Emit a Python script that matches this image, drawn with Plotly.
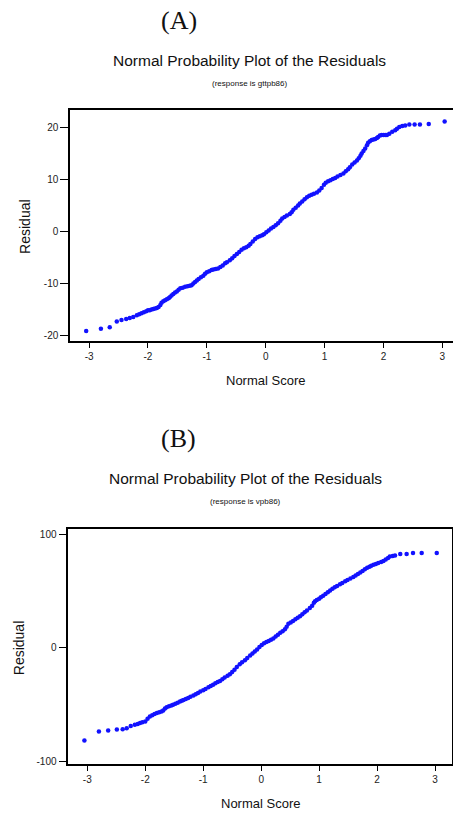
import plotly.graph_objects as go

# ---------------- data ----------------
# Panel A: response is gttpb86
a_score = [-3.05, -2.80, -2.65, -2.53, -2.45, -2.37, -2.31, -2.25, -2.19, -2.15, -2.11, -2.07, -2.03,
           -2.00, -1.97, -1.94, -1.91, -1.88, -1.85, -1.82, -1.79, -1.77, -1.74, -1.71, -1.68, -1.65,
           -1.63, -1.60, -1.57, -1.54, -1.51, -1.48, -1.45, -1.41, -1.37, -1.33, -1.29, -1.26, -1.23,
           -1.20, -1.17, -1.14, -1.10, -1.06, -1.03, -1.00, -0.96, -0.92, -0.89, -0.85, -0.81, -0.77,
           -0.73, -0.69, -0.66, -0.61, -0.57, -0.53, -0.49, -0.45, -0.41, -0.37, -0.33, -0.29, -0.26,
           -0.22, -0.18, -0.14, -0.10, -0.06, -0.03, 0.01, 0.05, 0.09, 0.13, 0.17, 0.21, 0.25, 0.28,
           0.32, 0.36, 0.41, 0.44, 0.47, 0.51, 0.55, 0.58, 0.62, 0.66, 0.70, 0.74, 0.78, 0.82, 0.87,
           0.91, 0.95, 0.99, 1.02, 1.06, 1.10, 1.14, 1.18, 1.22, 1.27, 1.32, 1.36, 1.40, 1.43, 1.47,
           1.51, 1.55, 1.58, 1.61, 1.63, 1.66, 1.69, 1.72, 1.74, 1.77, 1.80, 1.83, 1.86, 1.89, 1.91,
           1.94, 1.97, 2.00, 2.03, 2.06, 2.10, 2.15, 2.20, 2.23, 2.27, 2.32, 2.37, 2.44, 2.53, 2.62,
           2.77, 3.04]
a_resid = [-19.2, -18.8, -18.5, -17.4, -17.1, -16.9, -16.7, -16.5, -16.2, -16.0, -15.8, -15.6, -15.4,
           -15.2, -15.2, -15.1, -15.0, -14.9, -14.8, -14.6, -14.2, -13.8, -13.5, -13.3, -13.1, -12.9,
           -12.7, -12.4, -12.1, -11.8, -11.6, -11.3, -11.0, -10.9, -10.7, -10.6, -10.5, -10.4, -10.1,
           -9.8, -9.5, -9.2, -8.9, -8.6, -8.2, -7.9, -7.7, -7.5, -7.4, -7.3, -7.2, -6.9,
           -6.6, -6.2, -6.0, -5.6, -5.2, -4.8, -4.4, -4.0, -3.6, -3.3, -3.1, -2.8, -2.5,
           -2.0, -1.5, -1.2, -1.0, -0.8, -0.6, -0.2, 0.1, 0.5, 0.8, 1.1, 1.5, 2.0, 2.4,
           2.7, 3.0, 3.3, 3.6, 4.1, 4.5, 4.9, 5.3, 5.7, 6.1, 6.5, 6.8, 7.0, 7.2, 7.4,
           7.8, 8.3, 8.9, 9.3, 9.6, 9.8, 10.0, 10.2, 10.5, 10.8, 11.1, 11.5, 11.9, 12.3, 12.8,
           13.2, 13.6, 14.0, 14.5, 14.9, 15.4, 15.9, 16.5, 17.0, 17.3, 17.5, 17.6, 17.7, 17.9, 18.1,
           18.4, 18.5, 18.5, 18.5, 18.5, 18.7, 19.1, 19.4, 19.7, 20.0, 20.2, 20.3, 20.5, 20.5, 20.5,
           20.6, 21.1]

# Panel B: response is vpb86
b_score = [-3.05, -2.80, -2.64, -2.49, -2.39, -2.32, -2.25, -2.18, -2.13, -2.09, -2.05, -2.00, -1.96,
           -1.92, -1.88, -1.84, -1.80, -1.76, -1.72, -1.69, -1.66, -1.63, -1.59, -1.55, -1.52, -1.48,
           -1.44, -1.40, -1.37, -1.34, -1.30, -1.26, -1.22, -1.17, -1.13, -1.09, -1.05, -1.00, -0.96,
           -0.91, -0.87, -0.83, -0.79, -0.75, -0.71, -0.67, -0.63, -0.58, -0.54, -0.50, -0.46, -0.42,
           -0.37, -0.33, -0.28, -0.24, -0.19, -0.15, -0.11, -0.07, -0.03, 0.01, 0.05, 0.09, 0.13,
           0.17, 0.21, 0.25, 0.29, 0.33, 0.37, 0.41, 0.44, 0.47, 0.51, 0.55, 0.59, 0.63, 0.67,
           0.71, 0.75, 0.79, 0.84, 0.88, 0.91, 0.93, 0.96, 1.00, 1.03, 1.07, 1.11, 1.15, 1.19,
           1.23, 1.27, 1.31, 1.36, 1.40, 1.45, 1.49, 1.54, 1.59, 1.63, 1.67, 1.71, 1.75, 1.79,
           1.83, 1.87, 1.90, 1.94, 1.98, 2.02, 2.07, 2.11, 2.15, 2.19, 2.22, 2.27, 2.31, 2.40,
           2.51, 2.62, 2.77, 3.03]
b_resid = [-81.7, -73.8, -72.9, -72.0, -71.8, -70.8, -68.9, -67.7, -67.0, -66.3, -65.6, -64.9, -62.5,
           -60.6, -59.3, -58.3, -57.5, -56.8, -56.0, -55.2, -53.5, -52.3, -51.5, -50.8, -50.1, -49.2,
           -48.3, -47.3, -46.7, -46.0, -45.1, -44.2, -43.2, -42.0, -41.0, -39.8, -38.6, -37.3, -36.2,
           -34.8, -33.6, -32.5, -31.3, -30.2, -29.2, -27.8, -26.2, -24.7, -23.3, -21.3, -19.3, -17.0,
           -14.6, -12.8, -11.0, -9.0, -6.8, -5.0, -3.3, -1.5, 0.6, 2.5, 4.0, 5.0, 6.0,
           7.1, 8.2, 9.8, 11.5, 13.1, 14.5, 16.3, 18.5, 21.0, 22.3, 23.6, 25.0, 26.3, 27.7,
           29.5, 31.3, 32.8, 35.0, 37.0, 39.5, 40.8, 42.0, 43.2, 44.4, 45.8, 47.3, 48.8, 50.4,
           51.8, 53.1, 54.4, 55.8, 57.0, 58.4, 59.6, 61.0, 62.3, 63.5, 64.8, 66.2, 67.6, 69.0,
           70.3, 71.3, 72.2, 72.9, 73.7, 74.6, 75.5, 76.4, 77.6, 79.0, 80.2, 80.6, 81.1, 82.5,
           82.5, 83.4, 83.4, 83.4]

a_xticks = [-3, -2, -1, 0, 1, 2, 3]
a_yticks = [-20, -10, 0, 10, 20]
b_xticks = [-3, -2, -1, 0, 1, 2, 3]
b_yticks = [-100, 0, 100]

W, H = 453, 816
SANS = "Liberation Sans, Arial, sans-serif"
SERIF = "Liberation Serif, Times New Roman, serif"
BLUE = "#1212ff"

def px(x):
    return x / W

def py(y):
    return 1 - y / H

fig = go.Figure()
fig.add_trace(go.Scatter(x=a_score, y=a_resid, mode="markers", xaxis="x", yaxis="y",
                         marker=dict(color=BLUE, size=4.5, symbol="circle", line=dict(width=0)),
                         showlegend=False, hoverinfo="x+y"))
fig.add_trace(go.Scatter(x=b_score, y=b_resid, mode="markers", xaxis="x2", yaxis="y2",
                         marker=dict(color=BLUE, size=4.5, symbol="circle", line=dict(width=0)),
                         showlegend=False, hoverinfo="x+y"))

tickfont = dict(family=SANS, size=10, color="#222222")
common = dict(showgrid=False, zeroline=False, showline=True, linecolor="black", linewidth=1.5,
              ticks="outside", tickcolor="black", tickwidth=1.2, tickfont=tickfont)

def labels(vals):
    return [str(v) for v in vals]

fig.update_layout(
    width=W, height=H,
    margin=dict(l=0, r=0, t=0, b=0),
    paper_bgcolor="white", plot_bgcolor="white",
    xaxis=dict(domain=[px(70), 1.0], range=[-3.325, 3.182], anchor="y",
               tickvals=a_xticks, ticktext=labels(a_xticks), ticklen=5, mirror=True, **common),
    yaxis=dict(domain=[py(342), py(110)], range=[-21.2, 23.2], anchor="x",
               tickvals=a_yticks, ticktext=labels(a_yticks), ticklen=8, mirror=False, **common),
    xaxis2=dict(domain=[px(68.3), px(451.7)], range=[-3.328, 3.288], anchor="y2",
                tickvals=b_xticks, ticktext=labels(b_xticks), ticklen=5, mirror=True, **common),
    yaxis2=dict(domain=[py(767), py(531)], range=[-102.5, 104.1], anchor="x2",
                tickvals=b_yticks, ticktext=labels(b_yticks), ticklen=8, mirror=True, **common),
)

def note(text, x, y, family, size, angle=0):
    fig.add_annotation(text=text, x=px(x), y=py(y), xref="paper", yref="paper",
                       xanchor="center", yanchor="middle", showarrow=False, textangle=angle,
                       font=dict(family=family, size=size, color="#111111"))

# Panel A texts
note("(A)", 178.5, 20, SERIF, 26)
note("Normal Probability Plot of the Residuals", 249.5, 60, SANS, 15.5)
note("(response is gttpb86)", 249.5, 83, SANS, 8)
note("Residual", 25, 227, SANS, 14, angle=-90)
note("Normal Score", 265, 381, SANS, 13)

# Panel B texts
note("(B)", 178.5, 440, SERIF, 26)
note("Normal Probability Plot of the Residuals", 245, 480, SANS, 15.5)
note("(response is vpb86)", 245, 503, SANS, 8)
note("Residual", 18.4, 650, SANS, 14, angle=-90)
note("Normal Score", 260, 806, SANS, 13)

fig.write_html(
    "out.html",
    config={"displayModeBar": False},
    post_script="document.body.style.margin='0';document.body.style.padding='0';"
                "document.body.style.overflow='hidden';",
)
